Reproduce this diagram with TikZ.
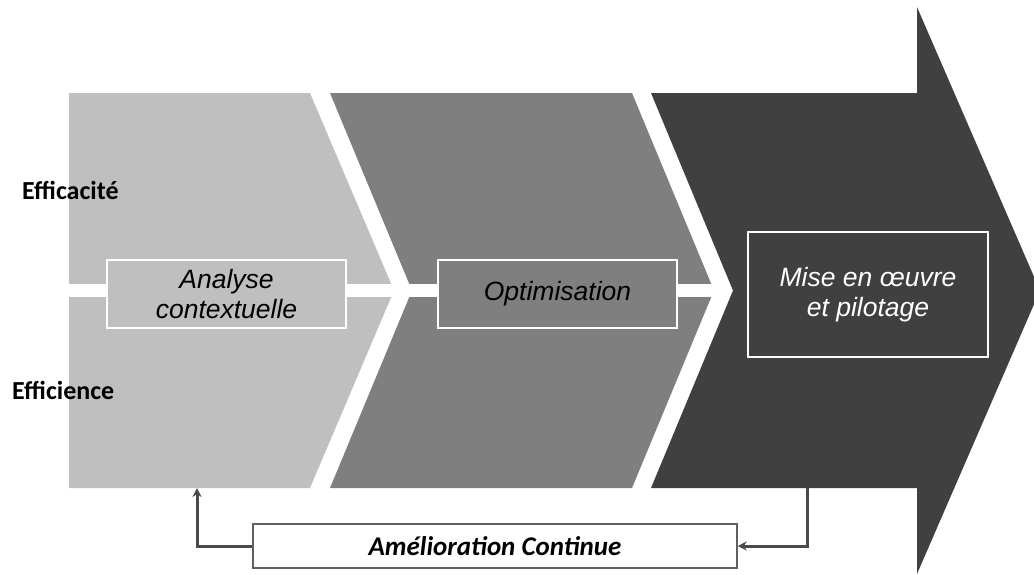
\documentclass[tikz,border=0pt]{standalone}
\usepackage{fontspec}
\setmainfont{Liberation Sans}
\newfontfamily\calibri{Carlito}
\usetikzlibrary{arrows.meta}
\definecolor{gA}{HTML}{BFBFBF}
\definecolor{gB}{HTML}{7F7F7F}
\definecolor{gC}{HTML}{404040}
\definecolor{gLine}{HTML}{4A4A4A}
\definecolor{gBorder}{HTML}{606060}
\begin{document}
\begin{tikzpicture}[x=1pt,y=-1pt,
  stagebox/.style={draw=white,line width=1.4pt,minimum width=239pt,minimum height=68pt,inner sep=0pt,align=center,
    font=\fontsize{26.5}{30}\selectfont\itshape},
  sidelbl/.style={inner sep=0pt,font=\calibri\fontsize{26}{30}\selectfont\bfseries},
  conn/.style={draw=gLine,line width=3pt,-{Stealth[length=9pt,width=9pt]}}]
\useasboundingbox (0,0) rectangle (1034,574);
% chevrons
\fill[gA] (69,93) -- (310,93) -- (394,290.5) -- (310,488) -- (69,488) -- cycle;
\fill[gB] (330,93) -- (632,93) -- (714,290.5) -- (632,488) -- (330,488) -- (412,290.5) -- cycle;
\fill[gC] (651,93) -- (917,93) -- (917,7) -- (1040,290.5) -- (917,574) -- (917,488) -- (651,488) -- (733,290.5) -- cycle;
% white strip
\fill[white] (60,284) rectangle (716,297);
% side labels
\node[sidelbl,anchor=west] (effa) at (22,190) {Efficacité};
\node[sidelbl,anchor=west] (effi) at (12,390) {Efficience};
% stage boxes
\node[stagebox,fill=gA] (ana) at (226.5,294) {Analyse\\contextuelle};
\node[stagebox,fill=gB] (opt) at (557.5,294) {Optimisation};
\node[stagebox,fill=gC,text=white,minimum width=240pt,minimum height=125pt] (mise) at (868,294.5) {Mise en œuvre\\et pilotage};
% continuous improvement
\node[draw=gBorder,line width=1.5pt,fill=white,minimum width=484pt,minimum height=44pt,inner sep=0pt,
  font=\calibri\fontsize{27}{30}\selectfont\bfseries\itshape] (ameli) at (495,546) {Amélioration Continue};
\coordinate (aBot) at (197,488);
\coordinate (cBot) at (807,488);
\draw[conn] (ameli.west) -| (aBot);
\draw[conn] (cBot) |- (ameli.east);
\end{tikzpicture}
\end{document}
